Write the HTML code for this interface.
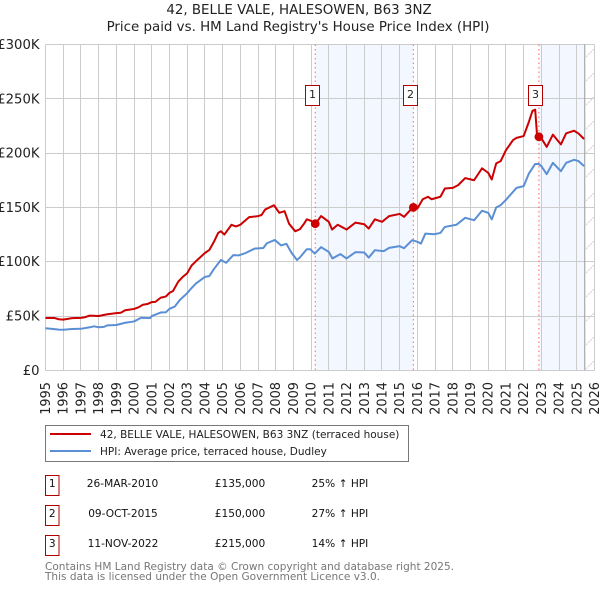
<!DOCTYPE html>
<html>
<head>
<meta charset="utf-8">
<title>42, BELLE VALE, HALESOWEN, B63 3NZ</title>
<style>
html,body{margin:0;padding:0;background:#fff;width:600px;height:590px;overflow:hidden}
svg{display:block;font-family:"DejaVu Sans","Liberation Sans",sans-serif}
</style>
</head>
<body>
<svg id="chart" xmlns="http://www.w3.org/2000/svg" width="600" height="590" viewBox="0 0 600 590">
  <defs>
    <pattern id="hatch" width="24" height="24" patternUnits="userSpaceOnUse" x="585" y="10">
      <path d="M-1 25 L25 -1" stroke="#cfcfcf" stroke-width="1" stroke-dasharray="2,1" fill="none"/>
    </pattern>
  </defs>
  <text x="299" y="14" text-anchor="middle" font-size="13.4" fill="#222">42, BELLE VALE, HALESOWEN, B63 3NZ</text>
  <text x="298" y="31" text-anchor="middle" font-size="13.4" fill="#222">Price paid vs. HM Land Registry's House Price Index (HPI)</text>
  <g id="plot"></g>
  <g>
    <rect x="45.5" y="425.5" width="363" height="36" fill="#fff" stroke="#777"/>
    <line x1="50" x2="91" y1="434" y2="434" stroke="#cc0000" stroke-width="2"/>
    <text x="100" y="438" font-size="10.52" fill="#222">42, BELLE VALE, HALESOWEN, B63 3NZ (terraced house)</text>
    <line x1="50" x2="91" y1="451" y2="451" stroke="#5b8fd4" stroke-width="2"/>
    <text x="100" y="455" font-size="10.52" fill="#222">HPI: Average price, terraced house, Dudley</text>
  </g>
  <g font-size="10.6" fill="#111">
    <g>
      <rect x="45.5" y="475.5" width="13.5" height="20" fill="#fff" stroke="#b00000"/>
      <text x="52.3" y="487" text-anchor="middle">1</text>
      <text x="122.5" y="487" text-anchor="middle">26-MAR-2010</text>
      <text x="240" y="487" text-anchor="middle">£135,000</text>
      <text x="340" y="487" text-anchor="middle">25% ↑ HPI</text>
    </g>
    <g>
      <rect x="45.5" y="505.5" width="13.5" height="20" fill="#fff" stroke="#b00000"/>
      <text x="52.3" y="517" text-anchor="middle">2</text>
      <text x="123" y="517" text-anchor="middle">09-OCT-2015</text>
      <text x="240" y="517" text-anchor="middle">£150,000</text>
      <text x="340" y="517" text-anchor="middle">27% ↑ HPI</text>
    </g>
    <g>
      <rect x="45.5" y="535.5" width="13.5" height="20" fill="#fff" stroke="#b00000"/>
      <text x="52.3" y="547" text-anchor="middle">3</text>
      <text x="123" y="547" text-anchor="middle">11-NOV-2022</text>
      <text x="240" y="547" text-anchor="middle">£215,000</text>
      <text x="340" y="547" text-anchor="middle">14% ↑ HPI</text>
    </g>
  </g>
  <text x="45" y="570" font-size="10.52" fill="#777">Contains HM Land Registry data © Crown copyright and database right 2025.</text>
  <text x="45" y="580" font-size="10.52" fill="#777">This data is licensed under the Open Government Licence v3.0.</text>
</svg>
<script>
const yearTicks = [1995,1996,1997,1998,1999,2000,2001,2002,2003,2004,2005,2006,2007,2008,2009,2010,2011,2012,2013,2014,2015,2016,2017,2018,2019,2020,2021,2022,2023,2024,2025,2026];
const priceTicks = [0,50,100,150,200,250,300];
const priceTickLabels = ['£0','£50K','£100K','£150K','£200K','£250K','£300K'];

const priceDates = [1995,1995.5,1995.75,1996,1996.5,1997,1997.25,1997.5,1998,1998.5,1999,1999.25,1999.5,2000,2000.25,2000.5,2000.75,2001,2001.2,2001.5,2001.8,2002,2002.2,2002.5,2002.75,2003,2003.25,2003.5,2004,2004.25,2004.5,2004.75,2004.9,2005.1,2005.5,2005.75,2006,2006.5,2007,2007.2,2007.4,2007.9,2008.2,2008.5,2008.75,2009.1,2009.37,2009.6,2009.75,2010,2010.23,2010.56,2011,2011.18,2011.5,2012,2012.5,2013,2013.25,2013.6,2014,2014.4,2015,2015.25,2015.77,2016,2016.3,2016.6,2016.8,2017.3,2017.55,2018,2018.3,2018.7,2019.2,2019.65,2020,2020.2,2020.45,2020.7,2021,2021.4,2021.6,2022,2022.3,2022.5,2022.65,2022.75,2022.86,2023,2023.3,2023.65,2024.1,2024.4,2024.85,2025.1,2025.41];
const priceValues = [48.2,48.2,47,46.7,48,48.3,49,50.4,50,51.6,52.6,53,55.3,56.5,58,60.4,61,62.8,63,66.8,68,71.3,73,81.7,86,89.4,96.5,100.5,108,110.8,118,126.5,128,125,134,132.5,134,141,142,143,148,152,145,146.5,135,128,130,135,139,137.6,134.6,142,136.7,129.6,134,129.6,136,134.5,130.5,139,136.7,142,144,141.3,150.5,149,157.5,159.8,157.5,159.8,167.4,168,170.5,177,175,186,181.8,175.7,190.5,192.6,202.7,212,214,215.7,229,239,240,218,215.7,213.6,205.7,217,208,218.2,220.6,218,213];

const hpiDates = [1995,1995.5,1995.75,1996,1996.5,1997,1997.5,1997.75,1998,1998.3,1998.5,1999,1999.5,2000,2000.4,2000.9,2001,2001.5,2001.8,2002,2002.3,2002.6,2003,2003.2,2003.5,2004,2004.25,2004.5,2004.9,2005.2,2005.6,2005.9,2006.3,2006.8,2007.3,2007.5,2007.95,2008.3,2008.6,2008.9,2009.2,2009.37,2009.75,2009.95,2010.2,2010.56,2011,2011.2,2011.65,2012,2012.5,2013,2013.25,2013.6,2014.1,2014.4,2015,2015.25,2015.7,2016,2016.2,2016.45,2016.95,2017.3,2017.55,2018.2,2018.7,2019.2,2019.65,2020,2020.2,2020.45,2020.7,2021,2021.6,2022,2022.3,2022.65,2022.85,2023,2023.3,2023.65,2024.1,2024.4,2024.85,2025.1,2025.41];
const hpiValues = [38.7,37.9,37.5,37.3,38,38.2,39.6,40.5,39.6,40,41.4,41.7,43.8,45,48.4,48,49.9,53.2,53.5,56.6,58.7,65,71,74.9,80,86,86.7,93,101.6,99,106,105.8,108,112,112.6,117,120,115,116.5,108,101.6,104,111.5,111.5,107.5,113.4,109,103,107,103,108.8,108.5,103.8,110.6,109.7,112.7,114.3,112.4,119.8,118.3,116.7,125.9,125.3,126.5,132,134,140.4,138.2,146.9,145,139,150,152,157,168,169.6,181.3,190,190,188,180.6,191,183.3,191,193.8,192.6,188];

const saleDates = [2010.23,2015.77,2022.86];
const salePrices = [135,150,215];
const saleLabels = ['1','2','3'];
const dataEndDate = 2025.45;

const NS = 'http://www.w3.org/2000/svg';
const plot = document.getElementById('plot');
function xScale(year){ return 45.5 + (year - 1995) * (549 / 31); }
function yScale(value){ return 370.3 - value * (325.8 / 300); }
function snap(v){ return Math.floor(v) + 0.5; }
function make(tag, attrs, text){
  const el = document.createElementNS(NS, tag);
  Object.keys(attrs).forEach(function(k){ el.setAttribute(k, attrs[k]); });
  if (text !== undefined) el.textContent = text;
  plot.appendChild(el);
  return el;
}
const xLeft = xScale(yearTicks[0]);
const xRight = xScale(yearTicks[yearTicks.length - 1]);
const yTop = yScale(priceTicks[priceTicks.length - 1]);
const yBottom = yScale(priceTicks[0]);

const shadeA = make('rect', {x: xScale(saleDates[0]), y: yTop, width: xScale(saleDates[1]) - xScale(saleDates[0]), height: yBottom - yTop, fill: '#f3f7ff'});


const shadeB = make('rect', {x: xScale(saleDates[2]), y: yTop, width: xScale(dataEndDate) - xScale(saleDates[2]), height: yBottom - yTop, fill: '#f3f7ff'});



yearTicks.forEach(function(year){
  const gx = snap(xScale(year));
  const grid = make('line', {x1: gx, x2: gx, y1: yTop, y2: yBottom, stroke: '#cccccc', 'stroke-width': 1});
  
  
  const label = make('text', {transform: 'translate(' + (xScale(year) + 4.5) + ',414.8) rotate(-90)', 'font-size': 12.9, fill: '#222'}, String(year));
  
  
});

priceTicks.forEach(function(tick, i){
  const gy = snap(yScale(tick));
  const grid = make('line', {x1: xLeft, x2: xRight, y1: gy, y2: gy, stroke: '#cccccc', 'stroke-width': 1});
  
  
  const label = make('text', {x: 39.5, y: yScale(tick) + 4.5, 'text-anchor': 'end', 'font-size': 13.2, fill: '#222'}, priceTickLabels[i]);
  
  
});

const hatch = make('rect', {x: xScale(dataEndDate), y: yTop, width: xRight - xScale(dataEndDate), height: yBottom - yTop, fill: 'url(#hatch)'});


const endLine = make('line', {x1: xScale(dataEndDate), x2: xScale(dataEndDate), y1: yTop, y2: yBottom, stroke: '#999999', 'stroke-width': 1});



saleDates.forEach(function(date){
  const sx = xScale(date);
  const v = make('line', {x1: sx, x2: sx, y1: yTop, y2: yBottom, stroke: '#ff6666', 'stroke-width': 1, 'stroke-dasharray': '1.5,3'});
  
  
});

function linePath(dates, values){
  return dates.map(function(d, i){ return (i ? 'L' : 'M') + xScale(d).toFixed(2) + ' ' + yScale(values[i]).toFixed(2); }).join(' ');
}
const hpiLine = make('path', {d: linePath(hpiDates, hpiValues), fill: 'none', stroke: '#5b8fd4', 'stroke-width': 2, 'stroke-linejoin': 'round'});


const priceLine = make('path', {d: linePath(priceDates, priceValues), fill: 'none', stroke: '#cc0000', 'stroke-width': 2, 'stroke-linejoin': 'round'});



saleDates.forEach(function(date, i){
  const dot = make('circle', {cx: xScale(date), cy: yScale(salePrices[i]), r: 4.4, fill: '#cc0000'});
  
  
  const bx = xScale(date) - 10;
  const box = make('rect', {x: snap(bx), y: 85.5, width: 14, height: 20, fill: '#fff', stroke: '#b00000', 'stroke-width': 1});
  
  
  const num = make('text', {x: snap(bx) + 7, y: 98, 'text-anchor': 'middle', 'font-size': 11, fill: '#222'}, saleLabels[i]);
  
  
});
</script>
</body>
</html>
